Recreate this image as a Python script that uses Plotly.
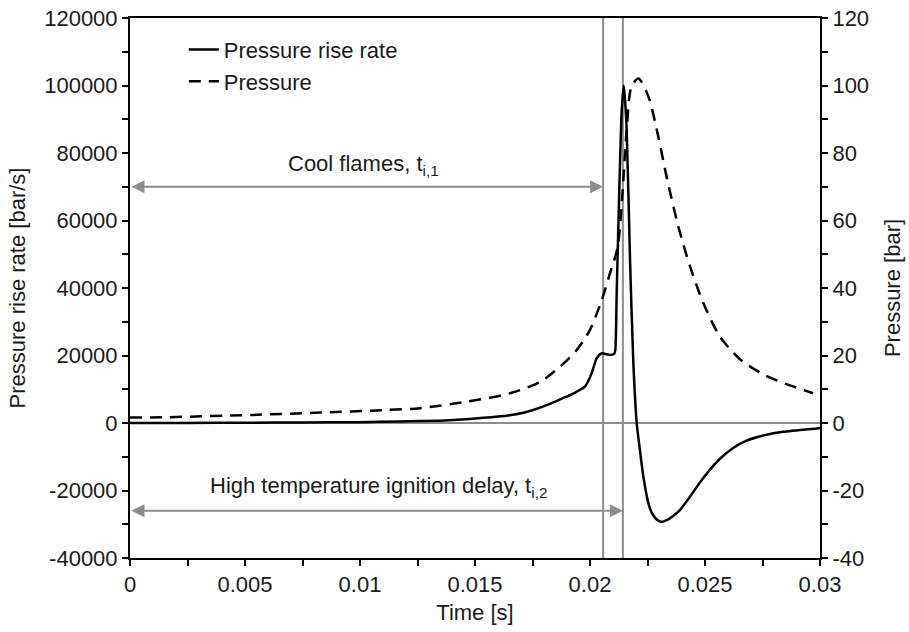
import plotly.graph_objects as go

# ---- data ----
t_rate = [0.0, 0.0025, 0.005, 0.0075, 0.01, 0.0117, 0.0135, 0.0146, 0.016, 0.0168,
          0.0175, 0.0182, 0.0188, 0.0192, 0.01978, 0.02007, 0.02029, 0.02051, 0.02087,
          0.02105, 0.0211, 0.02116, 0.02127, 0.02138, 0.02147, 0.02159, 0.02174, 0.02188,
          0.02203, 0.02217, 0.02232, 0.02254, 0.0227, 0.0229, 0.02312, 0.02333, 0.0236,
          0.02391, 0.02435, 0.02478, 0.02522, 0.02565, 0.02622, 0.02681, 0.0276, 0.0284,
          0.02986, 0.03]
rate = [0, 30, 80, 150, 250, 450, 700, 1100, 1900, 2600,
        3800, 5500, 7300, 8500, 10750, 14700, 19200, 20650, 20150,
        20500, 21600, 38400, 68000, 92700, 100000, 87800, 48300, 18700,
        0, -8000, -15900, -23800, -26800, -28600, -29300, -28800, -27600,
        -25800, -21800, -17600, -13800, -10600, -7400, -5200, -3600, -2600,
        -1600, -1500]

t_pres = [0.0, 0.00145, 0.00536, 0.00826, 0.01116, 0.01261, 0.01464, 0.01652, 0.01783,
          0.0187, 0.01942, 0.02, 0.02051, 0.02087, 0.0212, 0.0214, 0.0216, 0.0218,
          0.0221, 0.02254, 0.02297, 0.02333, 0.02384, 0.02435, 0.02493, 0.02565,
          0.02652, 0.02754, 0.02855, 0.02949, 0.0297]
pressure = [1.6, 1.7, 2.4, 3.1, 3.85, 4.4, 6.3, 8.8, 12.2,
            16.7, 21.6, 27.6, 36.4, 44.4, 52, 67, 87.5, 99.5,
            102.1, 96.7, 84.8, 73, 58.2, 46.4, 35.5, 25.6,
            18.9, 14.4, 11.5, 9.3, 8.8]

t_cool = 0.02057   # cool flame ignition delay
t_high = 0.02143   # high temperature ignition delay
y_cool_arrow = 70000
y_high_arrow = -26000

x_ticks = [0, 0.005, 0.01, 0.015, 0.02, 0.025, 0.03]
x_labels = ["0", "0.005", "0.01", "0.015", "0.02", "0.025", "0.03"]
y_ticks = [-40000, -20000, 0, 20000, 40000, 60000, 80000, 100000, 120000]
y_labels = ["-40000", "-20000", "0", "20000", "40000", "60000", "80000", "100000", "120000"]
y2_ticks = [-40, -20, 0, 20, 40, 60, 80, 100, 120]
y2_labels = ["-40", "-20", "0", "20", "40", "60", "80", "100", "120"]

FONT = "Liberation Sans, Arial, sans-serif"
GREY = "#8c8c8c"
TXT = "#1a1a1a"
FS = 22

fig = go.Figure()
fig.add_trace(go.Scatter(x=t_rate, y=rate, mode="lines", name="Pressure rise rate",
                         line=dict(color="black", width=2.5, shape="spline", smoothing=0.6)))
fig.add_trace(go.Scatter(x=t_pres, y=pressure, mode="lines", name="Pressure", yaxis="y2",
                         line=dict(color="black", width=2.5, dash="12px,8px",
                                   shape="spline", smoothing=0.8)))

# zero line and ignition-delay markers
fig.add_shape(type="line", xref="paper", yref="y", x0=0, x1=1, y0=0, y1=0,
              line=dict(color=GREY, width=2), layer="below")
for tv in (t_cool, t_high):
    fig.add_shape(type="line", xref="x", yref="paper", x0=tv, x1=tv, y0=0, y1=1,
                  line=dict(color=GREY, width=2), layer="below")

# double-headed arrows
for tend, yv in ((t_cool, y_cool_arrow), (t_high, y_high_arrow)):
    fig.add_annotation(x=tend, y=yv, ax=0, ay=yv, xref="x", yref="y", axref="x", ayref="y",
                       text="", showarrow=True, arrowhead=2, arrowside="end+start",
                       arrowsize=1.3, arrowwidth=2, arrowcolor=GREY, standoff=0, startstandoff=0)

fig.add_annotation(x=0.01017, y=76400, xref="x", yref="y", showarrow=False,
                   text="Cool flames, t<sub>i,1</sub>", font=dict(size=FS, color=TXT, family=FONT))
fig.add_annotation(x=0.0108, y=-19000, xref="x", yref="y", showarrow=False,
                   text="High temperature ignition delay, t<sub>i,2</sub>",
                   font=dict(size=FS, color=TXT, family=FONT))

axis_common = dict(showgrid=False, zeroline=False, showline=True, linecolor="black", linewidth=2,
                   ticks="outside", ticklen=6, tickwidth=2, tickcolor="black", automargin=False,
                   tickfont=dict(size=FS, color=TXT, family=FONT))

fig.update_layout(
    width=909, height=632,
    margin=dict(l=130, r=89, t=18, b=74),
    paper_bgcolor="white", plot_bgcolor="white",
    font=dict(family=FONT, color=TXT, size=FS),
    xaxis=dict(range=[0, 0.03], tickvals=x_ticks, ticktext=x_labels, mirror=True,
               minor=dict(dtick=0.0025, ticks="outside", ticklen=6, tickwidth=2, tickcolor="black"),
               title=dict(text="Time [s]", font=dict(size=FS, family=FONT, color=TXT), standoff=8),
               **axis_common),
    yaxis=dict(range=[-40000, 120000], tickvals=y_ticks, ticktext=y_labels,
               minor=dict(dtick=10000, ticks="outside", ticklen=6, tickwidth=2, tickcolor="black"),
               title=dict(text="Pressure rise rate [bar/s]", font=dict(size=FS, family=FONT, color=TXT),
                          standoff=12),
               **axis_common),
    yaxis2=dict(range=[-40, 120], overlaying="y", side="right", tickvals=y2_ticks, ticktext=y2_labels,
                minor=dict(dtick=10, ticks="outside", ticklen=6, tickwidth=2, tickcolor="black"),
                title=dict(text="Pressure [bar]", font=dict(size=FS, family=FONT, color=TXT), standoff=16),
                **axis_common),
    legend=dict(x=0.078, y=0.98, xanchor="left", yanchor="top", bgcolor="rgba(0,0,0,0)",
                font=dict(size=FS, family=FONT, color=TXT), tracegroupgap=0),
    showlegend=True,
)

fig.write_html("out.html")
